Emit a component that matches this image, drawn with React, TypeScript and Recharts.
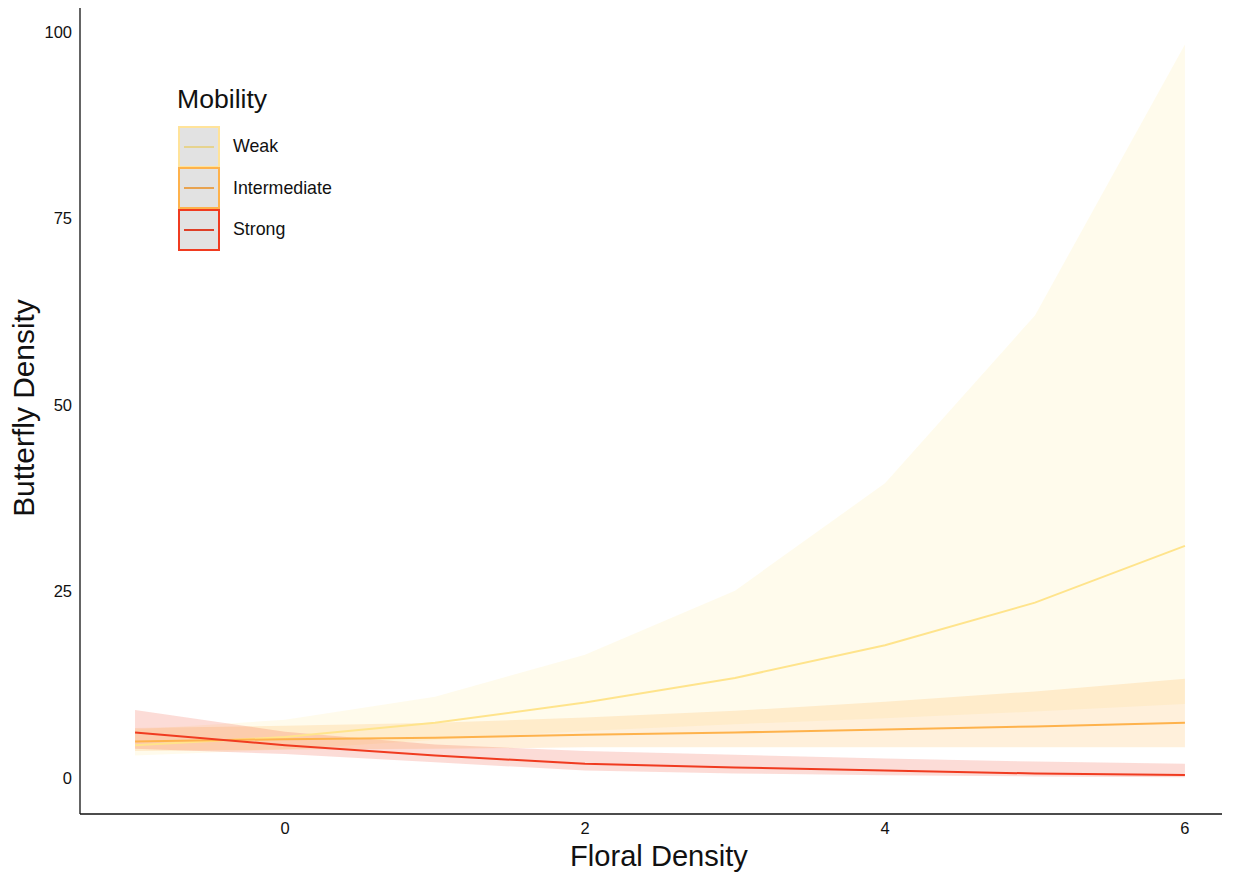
import React from 'react'
import {
  ComposedChart, Area, Line, XAxis, YAxis, Legend,
} from 'recharts'

const floral = [-1, 0, 1, 2, 3, 4, 5, 6]

const weakFit = [4.4, 5.5, 7.4, 10.1, 13.4, 17.8, 23.5, 31.1]
const weakLow = [3.0, 3.8, 5.1, 6.3, 7.2, 8.0, 8.9, 9.9]
const weakHigh = [6.5, 7.8, 10.9, 16.5, 25.1, 39.5, 62.0, 98.3]

const interFit = [4.9, 5.2, 5.4, 5.8, 6.1, 6.5, 6.9, 7.4]
const interLow = [3.6, 3.8, 3.9, 4.1, 4.1, 4.1, 4.1, 4.1]
const interHigh = [6.7, 7.0, 7.4, 8.1, 9.0, 10.2, 11.6, 13.3]

const strongFit = [6.1, 4.4, 3.0, 1.9, 1.4, 1.0, 0.6, 0.4]
const strongLow = [3.9, 3.2, 2.1, 1.0, 0.6, 0.35, 0.2, 0.1]
const strongHigh = [9.1, 6.2, 4.5, 3.6, 3.1, 2.6, 2.2, 1.9]

const xTicks = [0, 2, 4, 6]
const yTicks = [0, 25, 50, 75, 100]

const FONT = '"Liberation Sans", Arial, Helvetica, sans-serif'

const C = {
  weak: '#FFE48C', inter: '#FEB24C', strong: '#F03B20',
  weakFill: '#FFEDA0', key: '#E2E2E2', axis: '#111', text: '#111',
}

const SERIES = [
  { name: 'Weak', box: '#FFE39A', keyLine: '#E6D38E' },
  { name: 'Intermediate', box: '#FEB24C', keyLine: '#E8A350' },
  { name: 'Strong', box: '#F03B20', keyLine: '#DE3E26' },
]

const data = floral.map((x, i) => ({
  x,
  weak: weakFit[i], weakBand: [weakLow[i], weakHigh[i]],
  inter: interFit[i], interBand: [interLow[i], interHigh[i]],
  strong: strongFit[i], strongBand: [strongLow[i], strongHigh[i]],
}))

function LegendBox() {
  return (
    <div style={{ fontFamily: FONT, color: C.text }}>
      <div style={{ fontSize: 26.6, lineHeight: '30px', height: 30, marginBottom: 12, marginLeft: -1, whiteSpace: 'nowrap' }}>Mobility</div>
      {SERIES.map(s => (
        <div key={s.name} style={{ display: 'flex', alignItems: 'center', height: 41.5 }}>
          <div style={{
            width: 38, height: 38, flex: 'none', background: C.key,
            border: `2px solid ${s.box}`, position: 'relative',
          }}>
            <div style={{ position: 'absolute', left: 4, right: 4, top: 18, height: 2, background: s.keyLine }} />
          </div>
          <span style={{ fontSize: 17.8, marginLeft: 13, whiteSpace: 'nowrap' }}>{s.name}</span>
        </div>
      ))}
    </div>
  )
}

const YTitle = ({ viewBox }: any) => {
  const cx = viewBox.x + 23
  const cy = viewBox.y + viewBox.height / 2 - 3
  return (
    <text x={cx} y={cy} transform={`rotate(-90 ${cx} ${cy})`} textAnchor="middle" dominantBaseline="central"
      style={{ fontFamily: FONT, fontSize: 29.9, fill: C.text }}>Butterfly Density</text>
  )
}

export default function App() {
  return (
    <div style={{ position: 'absolute', left: 0, top: 0, background: '#fff' }}>
      <ComposedChart width={1241} height={876} data={data} margin={{ top: 8, right: 19, bottom: 0, left: 0 }}>
        <XAxis dataKey="x" type="number" domain={[-1.367, 6.247]} ticks={xTicks} height={62}
          tickLine={false} axisLine={{ stroke: C.axis, strokeWidth: 1.3 }}
          tick={{ fontSize: 16.5, fill: C.text, fontFamily: FONT }}
          label={{ value: 'Floral Density', position: 'insideBottom', offset: 10, dx: 8, style: { fontSize: 29.1, fill: C.text, fontFamily: FONT } }} />
        <YAxis type="number" domain={[-4.83, 103.2]} ticks={yTicks} width={80} allowDataOverflow
          tickLine={false} axisLine={{ stroke: C.axis, strokeWidth: 1.3 }}
          tick={{ fontSize: 16.5, fill: C.text, fontFamily: FONT }}
          label={<YTitle />} />
        <Legend layout="vertical" align="center" verticalAlign="middle"
          wrapperStyle={{ left: 178, top: 84, width: 220 }} content={() => <LegendBox />} />

        <Area dataKey="weakBand" type="linear" stroke="none" fill={C.weakFill} fillOpacity={0.2} isAnimationActive={false} legendType="none" />
        <Area dataKey="interBand" type="linear" stroke="none" fill={C.inter} fillOpacity={0.2} isAnimationActive={false} legendType="none" />
        <Area dataKey="strongBand" type="linear" stroke="none" fill={C.strong} fillOpacity={0.18} isAnimationActive={false} legendType="none" />

        <Line dataKey="weak" type="linear" stroke={C.weak} strokeWidth={2} dot={false} isAnimationActive={false} />
        <Line dataKey="inter" type="linear" stroke={C.inter} strokeWidth={2} dot={false} isAnimationActive={false} />
        <Line dataKey="strong" type="linear" stroke={C.strong} strokeWidth={2} dot={false} isAnimationActive={false} />
      </ComposedChart>
    </div>
  )
}
